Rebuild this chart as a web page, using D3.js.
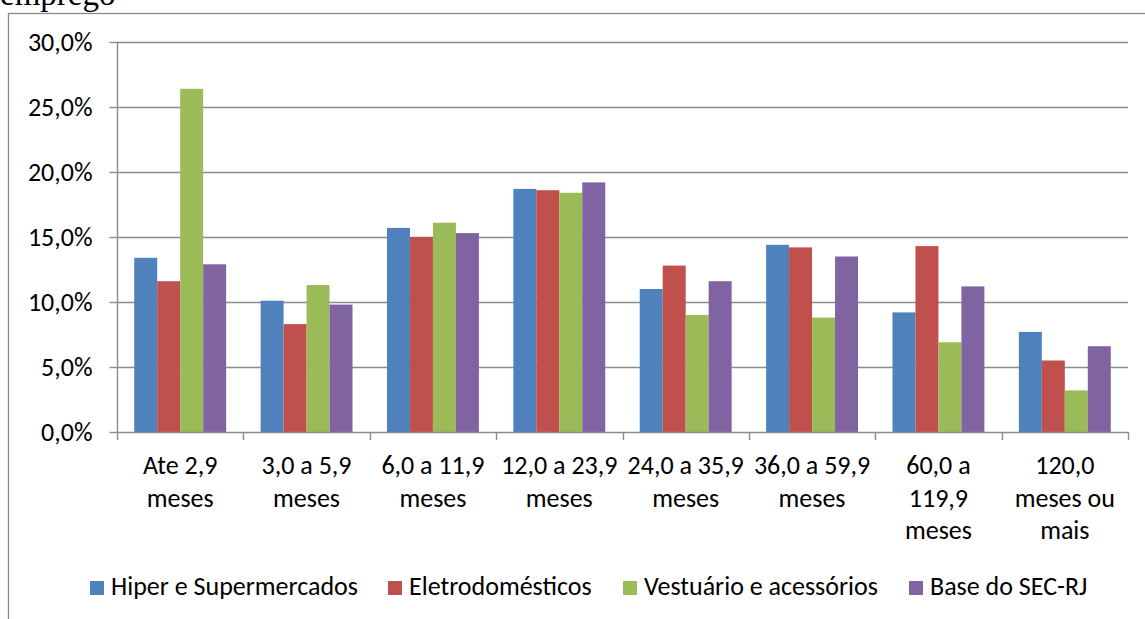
<!DOCTYPE html>
<html>
<head>
<meta charset="utf-8">
<script src="https://cdn.jsdelivr.net/npm/d3@7"></script>
<style>
  html, body { margin: 0; padding: 0; background: #fff; }
  svg { display: block; }
</style>
</head>
<body>
<svg id="chart" width="1145" height="619"></svg>
<script>
// ---- data ----
const categories = [
  ["Ate 2,9", "meses"],
  ["3,0 a 5,9", "meses"],
  ["6,0 a 11,9", "meses"],
  ["12,0 a 23,9", "meses"],
  ["24,0 a 35,9", "meses"],
  ["36,0 a 59,9", "meses"],
  ["60,0 a", "119,9", "meses"],
  ["120,0", "meses ou", "mais"]
];
const seriesNames = ["Hiper e Supermercados", "Eletrodomésticos", "Vestuário e acessórios", "Base do SEC-RJ"];
const hiper   = [0.134, 0.101, 0.157, 0.187, 0.110, 0.144, 0.092, 0.077];
const eletro  = [0.116, 0.083, 0.150, 0.186, 0.128, 0.142, 0.143, 0.055];
const vest    = [0.264, 0.113, 0.161, 0.184, 0.090, 0.088, 0.069, 0.032];
const base    = [0.129, 0.098, 0.153, 0.192, 0.116, 0.135, 0.112, 0.066];
const seriesValues = [hiper, eletro, vest, base];
const colors = ["#4f81bd", "#c0504d", "#9bbb59", "#8064a2"];
const yTicks = [0, 0.05, 0.10, 0.15, 0.20, 0.25, 0.30];

// ---- layout ----
const svg = d3.select("#chart");
const FONT = "Carlito, 'Liberation Sans', Arial, sans-serif";
const FS = 26;
const plot = { left: 117, right: 1128, top: 42, bottom: 432 };
const gridColor = "#8c8c8c";

// outer frame
svg.append("rect")
  .attr("x", 8.5).attr("y", 13.5)
  .attr("width", 1300).attr("height", 800)
  .attr("fill", "none").attr("stroke", "#8a8a8a").attr("stroke-width", 1.3);

// heading fragment above the chart
svg.append("text")
  .attr("x", 0).attr("y", 5)
  .attr("font-family", "'Liberation Serif', 'Times New Roman', serif")
  .attr("font-size", 33)
  .attr("fill", "#000")
  .text("emprego");

const x0 = d3.scaleBand()
  .domain(d3.range(categories.length))
  .range([plot.left, plot.right])
  .paddingInner(0).paddingOuter(0);

const x1 = d3.scaleBand()
  .domain(d3.range(seriesNames.length))
  .range([0, x0.bandwidth()])
  .paddingInner(0).paddingOuter(0.75);

const y = d3.scaleLinear().domain([0, 0.30]).range([plot.bottom, plot.top]);

const locale = d3.formatLocale({ decimal: ",", thousands: ".", grouping: [3], currency: ["R$", ""] });
const fmt = locale.format(".1%");

// gridlines
svg.append("g")
  .selectAll("line")
  .data(yTicks.filter(d => d > 0))
  .join("line")
  .attr("x1", plot.left).attr("x2", plot.right)
  .attr("y1", d => Math.round(y(d)) + 0.5).attr("y2", d => Math.round(y(d)) + 0.5)
  .attr("stroke", gridColor).attr("stroke-width", 1.4);

// bars
const groups = svg.append("g")
  .selectAll("g")
  .data(d3.range(seriesNames.length))
  .join("g")
  .attr("fill", s => colors[s]);

groups.selectAll("rect")
  .data(s => seriesValues[s].map((v, i) => ({ s, i, v })))
  .join("rect")
  .attr("x", d => x0(d.i) + x1(d.s))
  .attr("width", x1.bandwidth())
  .attr("y", d => y(d.v))
  .attr("height", d => y(0) - y(d.v));

// y axis
const yAxis = d3.axisLeft(y)
  .tickValues(yTicks)
  .tickFormat(fmt)
  .tickSize(8)
  .tickPadding(17);
const gy = svg.append("g")
  .attr("transform", `translate(${plot.left + 0.5},0)`)
  .call(yAxis);
gy.select(".domain").attr("stroke", gridColor).attr("stroke-width", 1.4)
  .attr("d", `M0,${plot.top}V${plot.bottom}`);
gy.selectAll(".tick line").attr("stroke", gridColor).attr("stroke-width", 1.4);
gy.selectAll(".tick text")
  .attr("font-family", FONT).attr("font-size", FS).attr("fill", "#000")
  .attr("dy", "0.33em");

// x axis baseline + boundary ticks
const boundaries = d3.range(categories.length + 1).map(i =>
  i < categories.length ? x0(i) : x0(categories.length - 1) + x0.bandwidth());
const gx = svg.append("g");
gx.append("line")
  .attr("x1", plot.left).attr("x2", plot.right)
  .attr("y1", plot.bottom + 0.5).attr("y2", plot.bottom + 0.5)
  .attr("stroke", gridColor).attr("stroke-width", 1.4);
gx.selectAll("line.tk")
  .data(boundaries)
  .join("line").attr("class", "tk")
  .attr("x1", d => Math.round(d) + 0.5).attr("x2", d => Math.round(d) + 0.5)
  .attr("y1", plot.bottom).attr("y2", plot.bottom + 8)
  .attr("stroke", gridColor).attr("stroke-width", 1.4);

// x labels
gx.selectAll("text.cat")
  .data(categories)
  .join("text").attr("class", "cat")
  .attr("font-family", FONT).attr("font-size", FS).attr("fill", "#000")
  .attr("text-anchor", "middle")
  .each(function(lines, i) {
    const t = d3.select(this);
    lines.forEach((ln, k) => {
      t.append("tspan")
        .attr("x", x0(i) + x0.bandwidth() / 2)
        .attr("y", 474 + k * 32.5)
        .text(ln);
    });
  });

// legend
const legendX = [90, 388, 623, 909];
const leg = svg.append("g")
  .selectAll("g")
  .data(seriesNames)
  .join("g")
  .attr("transform", (d, i) => `translate(${legendX[i]},0)`);
leg.append("rect")
  .attr("x", 0).attr("y", 581).attr("width", 14).attr("height", 14)
  .attr("fill", (d, i) => colors[i]);
leg.append("text")
  .attr("x", 21).attr("y", 595)
  .attr("font-family", FONT).attr("font-size", FS).attr("fill", "#000")
  .text(d => d);
</script>
</body>
</html>
